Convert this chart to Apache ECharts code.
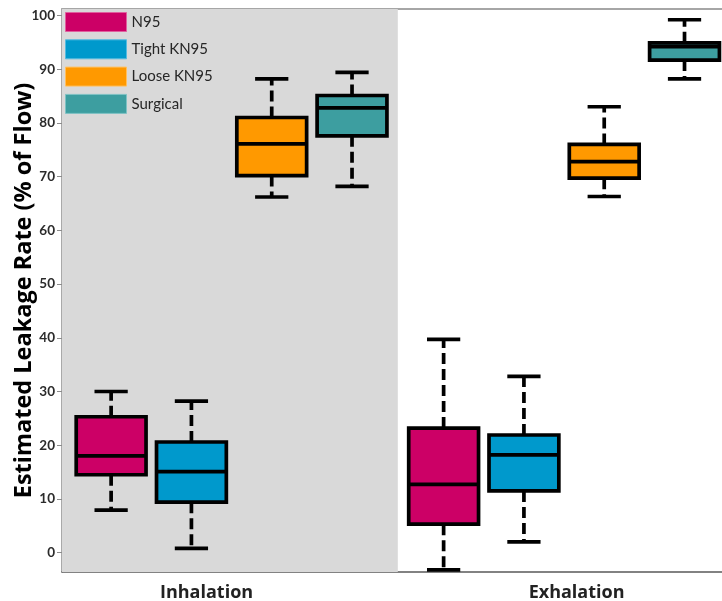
<!DOCTYPE html>
<html>
<head>
<meta charset="utf-8">
<script src="https://cdn.jsdelivr.net/npm/echarts@6/dist/echarts.min.js"></script>
<style>
  html, body { margin: 0; padding: 0; background: #ffffff; }
  #chart { width: 722px; height: 601px; }
</style>
</head>
<body>
<div id="chart"></div>
<script>
// ---- data ----
var categories = ['Inhalation', 'Exhalation'];
var maskNames = ['N95', 'Tight KN95', 'Loose KN95', 'Surgical'];
var maskColors = ['#CC0066', '#0099CC', '#FF9900', '#3D9EA0'];
var legendBorders = ['#E0609F', '#55BBE0', '#FFC060', '#7FC2C4'];
// each row: [min, Q1, median, Q3, max] per category (Inhalation, Exhalation)
var n95 = [[7.9, 14.5, 18.0, 25.3, 30.0], [-3.2, 5.3, 12.7, 23.2, 39.7]];
var tightKN95 = [[0.8, 9.4, 15.1, 20.6, 28.2], [2.0, 11.5, 18.2, 21.9, 32.8]];
var looseKN95 = [[66.2, 70.2, 76.1, 81.0, 88.2], [66.3, 69.7, 72.8, 76.0, 83.0]];
var surgical = [[68.2, 77.6, 82.8, 85.1, 89.4], [88.2, 91.7, 94.2, 94.9, 99.2]];
var yTicks = [0, 10, 20, 30, 40, 50, 60, 70, 80, 90, 100];
var xTicks = [0, 1]; // category positions

var seriesData = [n95, tightKN95, looseKN95, surgical];

// ---- layout constants (fractions of one category unit) ----
var SLOT = 0.2415, BOX_HALF = 0.105, CAP_HALF = 0.05;
var X_MIN = -0.51, X_MAX = 1.487;
var FONT = 'Lato, "Open Sans", sans-serif';
var FONT2 = '"Open Sans", Lato, sans-serif';

function makeBoxRender(s) {
  return function (params, api) {
    var unit = api.size([1, 0])[0];
    var xi = api.value(0);
    var cx = api.coord([xi, 0])[0] + (s - 1.5) * SLOT * unit;
    var y = function (v) { return api.coord([xi, v])[1]; };
    var yMin = y(api.value(1)), yQ1 = y(api.value(2)), yMed = y(api.value(3)),
        yQ3 = y(api.value(4)), yMax = y(api.value(5));
    var hw = unit * BOX_HALF, cw = unit * CAP_HALF;
    var lw = 3.7;
    var dashed = { stroke: '#000', lineWidth: lw, lineDash: [11, 5], fill: null };
    var solid = { stroke: '#000', lineWidth: lw, fill: null };
    return {
      type: 'group',
      children: [
        { type: 'line', shape: { x1: cx, y1: yQ3, x2: cx, y2: yMax }, style: dashed },
        { type: 'line', shape: { x1: cx, y1: yQ1, x2: cx, y2: yMin }, style: dashed },
        { type: 'line', shape: { x1: cx - cw, y1: yMax, x2: cx + cw, y2: yMax }, style: solid },
        { type: 'line', shape: { x1: cx - cw, y1: yMin, x2: cx + cw, y2: yMin }, style: solid },
        { type: 'rect', shape: { x: cx - hw, y: yQ3, width: 2 * hw, height: yQ1 - yQ3 },
          style: { fill: maskColors[s], stroke: '#000', lineWidth: lw } },
        { type: 'line', shape: { x1: cx - hw, y1: yMed, x2: cx + hw, y2: yMed }, style: solid }
      ]
    };
  };
}

var series = [{
  type: 'custom',
  name: 'bg',
  silent: true,
  data: [[0]],
  encode: { x: 0 },
  renderItem: function (params, api) {
    var cs = params.coordSys;
    var right = api.coord([api.value(0) + 0.5, 0])[0];
    return { type: 'rect', shape: { x: cs.x, y: cs.y, width: right - cs.x, height: cs.height },
             style: { fill: '#D9D9D9' } };
  }
}];

seriesData.forEach(function (arr, s) {
  series.push({
    type: 'custom',
    name: maskNames[s],
    itemStyle: { color: maskColors[s] },
    data: arr.map(function (row, i) { return [xTicks[i]].concat(row); }),
    encode: { x: 0, y: [1, 2, 3, 4, 5] },
    renderItem: makeBoxRender(s)
  });
});

var chart = echarts.init(document.getElementById('chart'), null, { renderer: 'canvas' });
chart.setOption({
  animation: false,
  backgroundColor: '#ffffff',
  grid: { left: 62, right: -4, top: 9, bottom: 29, outerBoundsMode: 'none', containLabel: false, show: false },
  legend: {
    orient: 'vertical', left: 60, top: 7,
    itemWidth: 61, itemHeight: 19, itemGap: 7.3,
    icon: 'rect',
    data: maskNames.map(function (n, i) {
      return { name: n, itemStyle: { borderColor: legendBorders[i], borderWidth: 1 } };
    }),
    textStyle: { fontFamily: FONT, fontSize: 15, color: '#262626' }
  },
  xAxis: [{
    type: 'value',
    min: X_MIN, max: X_MAX,
    axisLine: { show: true, onZero: false, lineStyle: { color: '#595959', width: 1.5 } },
    axisTick: { show: false },
    splitLine: { show: false },
    axisLabel: {
      customValues: xTicks,
      margin: 12,
      formatter: function (v) {
        var name = categories[Math.round(v)];
        return v < 0.5 ? '{a|' + name + '}' : '{b|' + name + '}';
      },
      rich: {
        a: { fontFamily: FONT2, fontWeight: 'bold', fontSize: 18, color: '#222', padding: [0, 50, 0, 0] },
        b: { fontFamily: FONT2, fontWeight: 'bold', fontSize: 18, color: '#222', padding: [0, 0, 0, 25] }
      }
    }
  }, {
    type: 'value',
    position: 'top',
    min: X_MIN, max: X_MAX,
    axisLine: { show: true, onZero: false, lineStyle: { color: '#A6A6A6', width: 2 } },
    axisTick: { show: false },
    axisLabel: { show: false },
    splitLine: { show: false }
  }],
  yAxis: {
    type: 'value',
    min: -3.6, max: 101.2,
    name: 'Estimated Leakage Rate (% of Flow)',
    nameLocation: 'middle',
    nameGap: 26,
    nameMoveOverlap: false,
    nameTextStyle: { fontFamily: FONT2, fontWeight: 'bold', fontSize: 23.5, color: '#000' },
    axisLine: { show: true, onZero: false, lineStyle: { color: '#8C8C8C', width: 1.5 } },
    axisTick: { show: true, length: 5, customValues: yTicks, lineStyle: { color: '#8C8C8C' } },
    axisLabel: { customValues: yTicks, margin: 7, fontFamily: FONT, fontWeight: 'bold', fontSize: 13.5, color: '#2b2b2b' },
    splitLine: { show: false }
  },
  series: series
});
</script>
</body>
</html>
